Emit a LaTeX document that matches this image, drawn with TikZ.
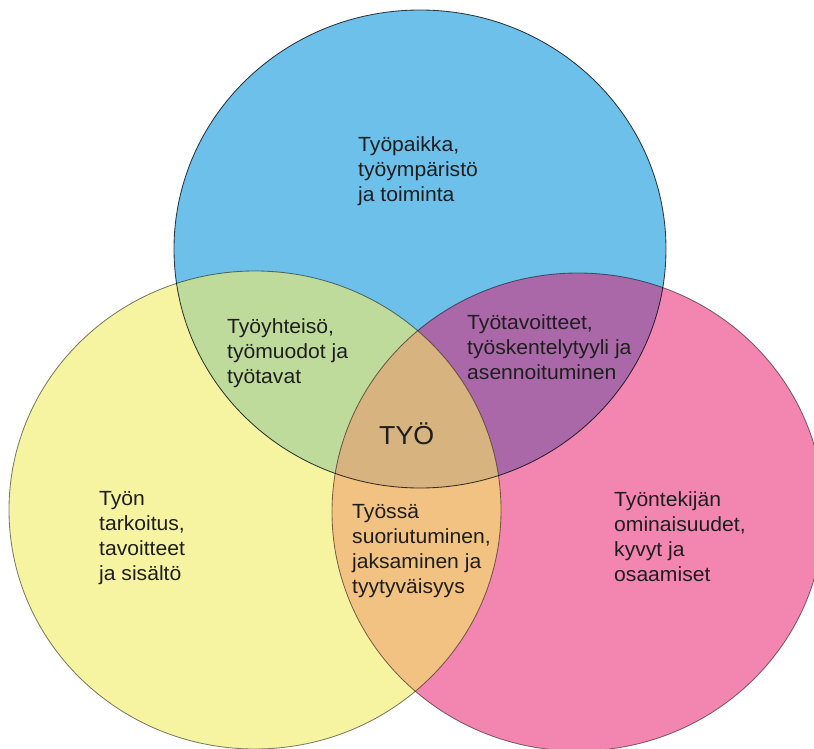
\documentclass[tikz,border=0pt]{standalone}
\usepackage{fontspec}
\setmainfont[FakeStretch=1.03]{Liberation Sans}
\definecolor{cblue}{HTML}{6DC0EA}
\definecolor{cyellow}{HTML}{F6F3A1}
\definecolor{cpink}{HTML}{F386B0}
\definecolor{cgreen}{HTML}{BFDB9B}
\definecolor{cpurple}{HTML}{AB68A8}
\definecolor{corange}{HTML}{F2C283}
\definecolor{ccenter}{HTML}{D6B37F}
\definecolor{ctext}{HTML}{1E1E1E}
\begin{document}
\begin{tikzpicture}[x=1pt,y=-1pt,
  lbl/.style={anchor=north west, inner sep=0pt, align=left, font=\fontsize{20.5}{25}\selectfont, text=ctext},
  rim/.style={draw=black, draw opacity=0.5, line width=0.85pt},
  bluec/.style={insert path={(420,249) ellipse [x radius=246pt, y radius=239pt]}},
  yellowc/.style={insert path={(255,510) ellipse [x radius=246pt, y radius=239pt]}},
  pinkc/.style={insert path={(578,512) ellipse [x radius=246pt, y radius=239pt]}}]
\useasboundingbox (0,0) rectangle (814,749);
\clip (0,0) rectangle (814,749);
% base circles
\fill[cyellow, yellowc];
\fill[cpink, pinkc];
\fill[cblue, bluec];
% pairwise overlaps
\begin{scope}
  \clip[bluec];
  \fill[cgreen, yellowc];
\end{scope}
\begin{scope}
  \clip[bluec];
  \fill[cpurple, pinkc];
\end{scope}
\begin{scope}
  \clip[yellowc];
  \fill[corange, pinkc];
\end{scope}
% triple overlap
\begin{scope}
  \clip[bluec];
  \clip[yellowc];
  \fill[ccenter, pinkc];
\end{scope}
% outlines
\path[rim, yellowc];
\path[rim, pinkc];
\path[rim, bluec, draw opacity=0.75];
% labels
\node[lbl] (tp) at (358,136) {Työpaikka,\\työympäristö\\ja toiminta};
\node[lbl] (ty) at (227,318) {Työyhteisö,\\työmuodot ja\\työtavat};
\node[lbl] (tt) at (467,314) {Työtavoitteet,\\työskentelytyyli ja\\asennoituminen};
\node[lbl, font=\fontsize{26}{30}\selectfont] (tyo) at (379,423) {TYÖ};
\node[lbl] (tn) at (99,491) {Työn\\tarkoitus,\\tavoitteet\\ja sisältö};
\node[lbl] (ts) at (352,504) {Työssä\\suoriutuminen,\\jaksaminen ja\\tyytyväisyys};
\node[lbl] (tk) at (614,491) {Työntekijän\\ominaisuudet,\\kyvyt ja\\osaamiset};
\end{tikzpicture}
\end{document}
